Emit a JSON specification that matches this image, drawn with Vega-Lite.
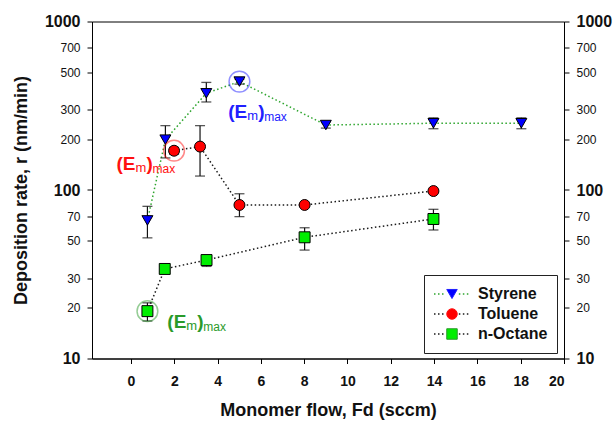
{
  "$schema": "https://vega.github.io/schema/vega-lite/v6.json",
  "width": 472,
  "height": 337,
  "autosize": {"type": "none"},
  "padding": {"left": 92, "top": 21.5, "right": 49, "bottom": 62.5},
  "background": "white",
  "config": {
    "font": "Liberation Sans",
    "view": {"stroke": "black", "strokeWidth": 1},
    "axis": {"domainColor": "black", "tickColor": "black", "grid": false, "labelFont": "Liberation Sans", "titleFont": "Liberation Sans", "labelColor": "#111", "titleColor": "#111"},
    "legend": {"labelFont": "Liberation Sans"}
  },
  "datasets": {
    "pts": [
      {"series": "Styrene", "x": 0.76, "y": 66, "lo": 52, "hi": 80},
      {"series": "Styrene", "x": 1.59, "y": 199, "lo": 155, "hi": 241},
      {"series": "Styrene", "x": 3.48, "y": 375, "lo": 333, "hi": 435},
      {"series": "Styrene", "x": 5.01, "y": 440, "lo": 425, "hi": 455},
      {"series": "Styrene", "x": 9.0, "y": 243, "lo": 233, "hi": 254},
      {"series": "Styrene", "x": 13.97, "y": 249, "lo": 231, "hi": 268},
      {"series": "Styrene", "x": 18.03, "y": 249, "lo": 231, "hi": 268},
      {"series": "Toluene", "x": 1.99, "y": 171, "lo": 163, "hi": 179},
      {"series": "Toluene", "x": 3.19, "y": 181, "lo": 121, "hi": 241},
      {"series": "Toluene", "x": 5.01, "y": 81.5, "lo": 69.5, "hi": 95},
      {"series": "Toluene", "x": 8.02, "y": 81.5, "lo": null, "hi": null},
      {"series": "Toluene", "x": 13.97, "y": 98.6, "lo": null, "hi": null},
      {"series": "n-Octane", "x": 0.76, "y": 19.1, "lo": 16.7, "hi": 21.4},
      {"series": "n-Octane", "x": 1.56, "y": 34, "lo": 32.8, "hi": 35.3},
      {"series": "n-Octane", "x": 3.49, "y": 38.4, "lo": 35.2, "hi": 40.8},
      {"series": "n-Octane", "x": 8.02, "y": 52.4, "lo": 44, "hi": 59.7},
      {"series": "n-Octane", "x": 13.97, "y": 67.3, "lo": 57.9, "hi": 76.8}
    ],
    "ann": [
      {"ann": "Styrene", "cx": 5.01, "cy": 440, "tx": 4.49, "ty": 290},
      {"ann": "Toluene", "cx": 1.99, "cy": 171, "tx": -0.67, "ty": 143},
      {"ann": "n-Octane", "cx": 0.76, "cy": 19.1, "tx": 1.68, "ty": 16.5}
    ]
  },
  "layer": [
    {
      "data": {"name": "pts"},
      "mark": {"type": "line", "strokeDash": [1.5, 2.5], "strokeWidth": 1.5},
      "encoding": {
        "x": {"field": "x", "type": "quantitative",
          "scale": {"domain": [-1.8, 20], "nice": false, "zero": false},
          "axis": {"values": [0, 2, 4, 6, 8, 10, 12, 14, 16, 18, 20], "labelFontSize": 14, "labelFontWeight": "bold", "tickSize": 5, "labelPadding": 11, "title": "Monomer flow, Fd (sccm)", "titleFontSize": 18, "titleFontWeight": "bold", "titlePadding": 13}},
        "y": {"field": "y", "type": "quantitative",
          "scale": {"type": "log", "domain": [10, 1000], "nice": false},
          "axis": {"orient": "left", "values": [10, 20, 30, 50, 70, 100, 200, 300, 500, 700, 1000], "format": "d", "tickSize": 5, "labelPadding": 7,
            "labelFontSize": {"condition": {"test": "datum.value == 10 || datum.value == 100 || datum.value == 1000", "value": 16}, "value": 12},
            "labelFontWeight": {"condition": {"test": "datum.value == 10 || datum.value == 100 || datum.value == 1000", "value": "bold"}, "value": "normal"},
            "title": "Deposition rate, r (nm/min)", "titleFontSize": 18, "titleFontWeight": "bold", "titlePadding": 14}},
        "stroke": {"field": "series", "type": "nominal",
          "scale": {"range": ["#2ea52e", "#1a1a1a", "#1a1a1a"]},
          "legend": {"title": null, "orient": "none", "legendX": 332, "legendY": 253.5, "symbolType": "M-1,0H-0.38M0.38,0H1", "symbolSize": 1296, "symbolDash": [1.5, 2.5], "symbolStrokeWidth": 1.5, "symbolFillColor": "transparent", "labelColor": "#111", "labelFontSize": 16, "labelFontWeight": "bold", "labelOffset": 7, "clipHeight": 20, "rowPadding": 0, "padding": 9, "strokeColor": "#222"}},
        "order": {"field": "x", "type": "quantitative"}
      }
    },
    {
      "data": {"name": "pts"},
      "transform": [{"filter": "datum.lo != null"}],
      "mark": {"type": "rule", "color": "#111", "strokeWidth": 1.2},
      "encoding": {
        "x": {"field": "x", "type": "quantitative", "scale": {"domain": [-1.8, 20], "nice": false, "zero": false}},
        "y": {"field": "lo", "type": "quantitative", "scale": {"type": "log", "domain": [10, 1000], "nice": false}, "axis": null},
        "y2": {"field": "hi"}
      }
    },
    {
      "data": {"name": "pts"},
      "transform": [{"filter": "datum.lo != null"}],
      "mark": {"type": "tick", "orient": "horizontal", "color": "#111", "size": 10, "thickness": 1.3},
      "encoding": {
        "x": {"field": "x", "type": "quantitative", "scale": {"domain": [-1.8, 20], "nice": false, "zero": false}},
        "y": {"field": "lo", "type": "quantitative", "scale": {"type": "log", "domain": [10, 1000], "nice": false}, "axis": null}
      }
    },
    {
      "data": {"name": "pts"},
      "transform": [{"filter": "datum.hi != null"}],
      "mark": {"type": "tick", "orient": "horizontal", "color": "#111", "size": 10, "thickness": 1.3},
      "encoding": {
        "x": {"field": "x", "type": "quantitative", "scale": {"domain": [-1.8, 20], "nice": false, "zero": false}},
        "y": {"field": "hi", "type": "quantitative", "scale": {"type": "log", "domain": [10, 1000], "nice": false}, "axis": null}
      }
    },
    {
      "data": {"name": "pts"},
      "mark": {"type": "point", "filled": true, "stroke": "black", "strokeWidth": 1, "size": 120, "opacity": 1},
      "encoding": {
        "x": {"field": "x", "type": "quantitative", "scale": {"domain": [-1.8, 20], "nice": false, "zero": false}},
        "y": {"field": "y", "type": "quantitative", "scale": {"type": "log", "domain": [10, 1000], "nice": false},
          "axis": {"orient": "right", "values": [10, 20, 30, 50, 70, 100, 200, 300, 500, 700, 1000], "format": "d", "tickSize": 5, "labelPadding": 7, "title": null,
            "labelFontSize": {"condition": {"test": "datum.value == 10 || datum.value == 100 || datum.value == 1000", "value": 16}, "value": 12},
            "labelFontWeight": {"condition": {"test": "datum.value == 10 || datum.value == 100 || datum.value == 1000", "value": "bold"}, "value": "normal"}}},
        "fill": {"field": "series", "type": "nominal",
          "scale": {"domain": ["Styrene", "Toluene", "n-Octane"], "range": ["#0000ff", "#ff0000", "#00ee00"]},
          "legend": {"title": null, "orient": "none", "legendX": 332, "legendY": 253.5, "symbolSize": 110, "symbolStrokeColor": "black", "symbolStrokeWidth": 1, "symbolOffset": 11, "labelOffset": 29, "labelFontSize": 16, "labelFontWeight": "bold", "labelOpacity": 0, "labelExpr": "''", "clipHeight": 20, "rowPadding": 0, "padding": 9,
            "encode": {"symbols": {"update": {"size": {"value": 110}}}}}},
        "shape": {"field": "series", "type": "nominal",
          "scale": {"domain": ["Styrene", "Toluene", "n-Octane"], "range": ["triangle-down", "circle", "square"]}}
      }
    },
    {
      "data": {"name": "ann"},
      "mark": {"type": "point", "filled": false, "strokeWidth": 1.5, "strokeOpacity": 0.7, "size": 430},
      "encoding": {
        "x": {"field": "cx", "type": "quantitative", "scale": {"domain": [-1.8, 20], "nice": false, "zero": false}},
        "y": {"field": "cy", "type": "quantitative", "scale": {"type": "log", "domain": [10, 1000], "nice": false}, "axis": null},
        "color": {"field": "ann", "type": "nominal", "scale": {"domain": ["Styrene", "Toluene", "n-Octane"], "range": ["#2020ff", "#ff1010", "#2a9a2a"]}, "legend": null}
      }
    },
    {
      "data": {"name": "ann"},
      "mark": {"type": "text", "text": "(E", "align": "left", "baseline": "middle", "fontSize": 19, "fontWeight": "bold"},
      "encoding": {
        "x": {"field": "tx", "type": "quantitative", "scale": {"domain": [-1.8, 20], "nice": false, "zero": false}},
        "y": {"field": "ty", "type": "quantitative", "scale": {"type": "log", "domain": [10, 1000], "nice": false}, "axis": null},
        "color": {"field": "ann", "type": "nominal", "legend": null}
      }
    },
    {
      "data": {"name": "ann"},
      "mark": {"type": "text", "text": "m", "align": "left", "baseline": "middle", "fontSize": 13, "dx": 19, "dy": 4},
      "encoding": {
        "x": {"field": "tx", "type": "quantitative", "scale": {"domain": [-1.8, 20], "nice": false, "zero": false}},
        "y": {"field": "ty", "type": "quantitative", "scale": {"type": "log", "domain": [10, 1000], "nice": false}, "axis": null},
        "color": {"field": "ann", "type": "nominal", "legend": null}
      }
    },
    {
      "data": {"name": "ann"},
      "mark": {"type": "text", "text": ")", "align": "left", "baseline": "middle", "fontSize": 19, "fontWeight": "bold", "dx": 30},
      "encoding": {
        "x": {"field": "tx", "type": "quantitative", "scale": {"domain": [-1.8, 20], "nice": false, "zero": false}},
        "y": {"field": "ty", "type": "quantitative", "scale": {"type": "log", "domain": [10, 1000], "nice": false}, "axis": null},
        "color": {"field": "ann", "type": "nominal", "legend": null}
      }
    },
    {
      "data": {"name": "ann"},
      "mark": {"type": "text", "text": "max", "align": "left", "baseline": "middle", "fontSize": 12, "dx": 36, "dy": 5},
      "encoding": {
        "x": {"field": "tx", "type": "quantitative", "scale": {"domain": [-1.8, 20], "nice": false, "zero": false}},
        "y": {"field": "ty", "type": "quantitative", "scale": {"type": "log", "domain": [10, 1000], "nice": false}, "axis": null},
        "color": {"field": "ann", "type": "nominal", "legend": null}
      }
    }
  ],
  "resolve": {"axis": {"y": "independent"}}
}
